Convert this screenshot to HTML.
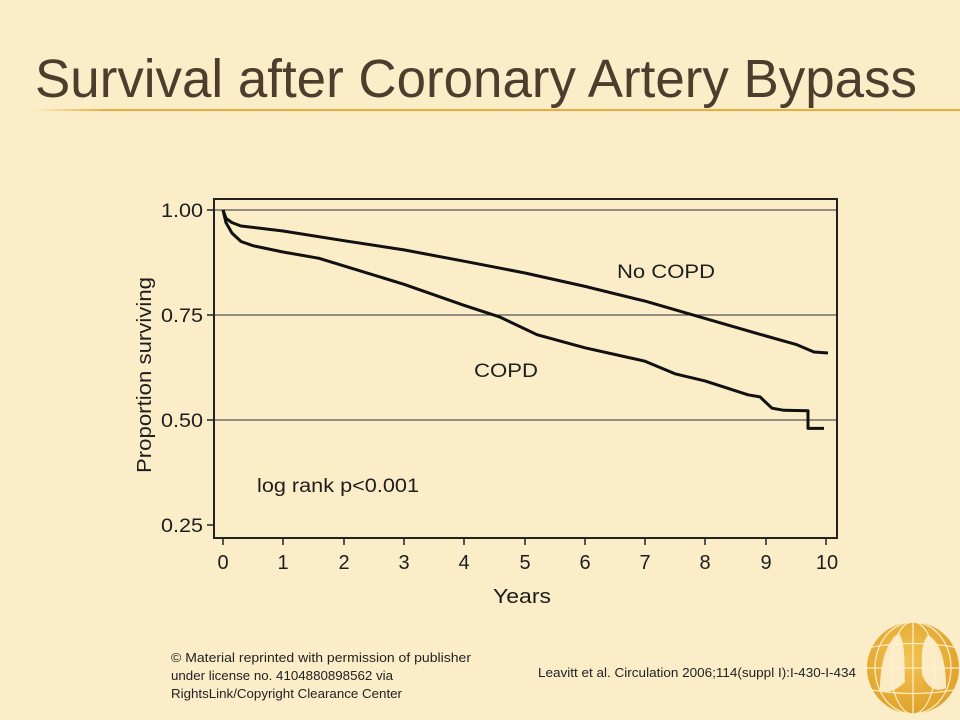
<!DOCTYPE html>
<html><head><meta charset="utf-8"><style>
html,body{margin:0;padding:0;background:#fcedc9;}
svg{display:block;}
</style></head><body>
<svg width="960" height="720" viewBox="0 0 960 720" xmlns="http://www.w3.org/2000/svg" font-family="Liberation Sans, Arial, sans-serif">
<defs>
<linearGradient id="ul" x1="0" x2="1" y1="0" y2="0">
<stop offset="0" stop-color="#f3b04a" stop-opacity="0"/>
<stop offset="0.08" stop-color="#f0a93a"/>
<stop offset="1" stop-color="#f0a93a"/>
</linearGradient>
<radialGradient id="globe" cx="0.45" cy="0.4" r="0.6">
<stop offset="0" stop-color="#f2c452"/>
<stop offset="1" stop-color="#e0a22a"/>
</radialGradient>
</defs>
<rect width="960" height="720" fill="#fcedc9"/>
<text x="35" y="97" font-size="54" fill="#4e3c2c" textLength="882" lengthAdjust="spacingAndGlyphs">Survival after Coronary Artery Bypass</text>
<rect x="30" y="109" width="930" height="2" fill="url(#ul)"/>

<!-- chart -->
<g stroke="#555" stroke-width="1.3">
<line x1="213" y1="210" x2="837" y2="210"/>
<line x1="213" y1="315" x2="837" y2="315"/>
<line x1="213" y1="420" x2="837" y2="420"/>
</g>
<rect x="214" y="199" width="623" height="339" fill="none" stroke="#222" stroke-width="2"/>
<g stroke="#222" stroke-width="1.5">
<line x1="207" y1="210" x2="214" y2="210"/>
<line x1="207" y1="315" x2="214" y2="315"/>
<line x1="207" y1="420" x2="214" y2="420"/>
<line x1="207" y1="525" x2="214" y2="525"/>
<line x1="223" y1="538" x2="223" y2="545"/>
<line x1="283" y1="538" x2="283" y2="545"/>
<line x1="344" y1="538" x2="344" y2="545"/>
<line x1="404" y1="538" x2="404" y2="545"/>
<line x1="464" y1="538" x2="464" y2="545"/>
<line x1="525" y1="538" x2="525" y2="545"/>
<line x1="585" y1="538" x2="585" y2="545"/>
<line x1="645" y1="538" x2="645" y2="545"/>
<line x1="705" y1="538" x2="705" y2="545"/>
<line x1="766" y1="538" x2="766" y2="545"/>
<line x1="826" y1="538" x2="826" y2="545"/>
</g>
<g font-size="19" fill="#1e1e1e" text-anchor="end">
<text x="203" y="217" textLength="42" lengthAdjust="spacingAndGlyphs">1.00</text>
<text x="203" y="322" textLength="42" lengthAdjust="spacingAndGlyphs">0.75</text>
<text x="203" y="427" textLength="42" lengthAdjust="spacingAndGlyphs">0.50</text>
<text x="203" y="532" textLength="42" lengthAdjust="spacingAndGlyphs">0.25</text>
</g>
<g font-size="20" fill="#1e1e1e" text-anchor="middle">
<text x="223" y="569">0</text><text x="283" y="569">1</text><text x="344" y="569">2</text>
<text x="404" y="569">3</text><text x="464" y="569">4</text><text x="525" y="569">5</text>
<text x="585" y="569">6</text><text x="645" y="569">7</text><text x="705" y="569">8</text>
<text x="766" y="569">9</text><text x="827" y="569">10</text>
<text x="522" y="603" textLength="58" lengthAdjust="spacingAndGlyphs">Years</text>
<text transform="translate(151,375) rotate(-90)" textLength="196" lengthAdjust="spacingAndGlyphs">Proportion surviving</text>
</g>
<g font-size="19" fill="#1e1e1e">
<text x="617" y="278" textLength="98" lengthAdjust="spacingAndGlyphs">No COPD</text>
<text x="474" y="377" textLength="64" lengthAdjust="spacingAndGlyphs">COPD</text>
<text x="257" y="492" textLength="162" lengthAdjust="spacingAndGlyphs">log rank p&lt;0.001</text>
</g>
<g fill="none" stroke="#111" stroke-width="3" stroke-linejoin="round">
<polyline points="223,210 226,218.4 232,222.6 241,226 283,231 344,240.7 404,249.9 464,261.2 525,273 585,286.4 645,301.1 705,318.4 766,336 796,344.4 814,352 828,353"/>
<polyline points="223,210 226,222.6 232,233.1 241,241.5 253,245.7 283,252 319,258.3 344,265.9 404,284.3 464,305.3 500,317.1 537,334.7 585,347.8 645,361.2 675,373.8 705,380.9 748,394.8 760,396.9 772,408.2 784,410.3 808,410.8 808,428.4 824,428.4"/>
</g>

<!-- footer -->
<g font-size="12.5" fill="#222">
<text x="171" y="662" textLength="300" lengthAdjust="spacingAndGlyphs">© Material reprinted with permission of publisher</text>
<text x="171" y="680" textLength="222" lengthAdjust="spacingAndGlyphs">under license no. 4104880898562   via</text>
<text x="171" y="698" textLength="231" lengthAdjust="spacingAndGlyphs">RightsLink/Copyright Clearance Center</text>
<text x="538" y="677" textLength="318" lengthAdjust="spacingAndGlyphs">Leavitt et al. Circulation 2006;114(suppl I):I-430-I-434</text>
</g>

<!-- logo -->
<g>
<circle cx="913" cy="668" r="46" fill="url(#globe)"/>
<path d="M899,633 C888,640 880,660 880,690 C890,695 898,688 905,682 C904,665 906,645 899,633 Z" fill="#fff5dc" opacity="0.85"/>
<path d="M928,635 C940,642 946,660 946,688 C936,693 928,688 922,675 C922,660 920,645 928,635 Z" fill="#fff5dc" opacity="0.85"/>
<g fill="none" stroke="#fff2d0" stroke-width="1.3" opacity="0.9">
<ellipse cx="913" cy="668" rx="22" ry="46"/>
<ellipse cx="913" cy="668" rx="38" ry="46"/>
<line x1="913" y1="622" x2="913" y2="714"/>
<line x1="867" y1="668" x2="959" y2="668"/>
<path d="M872,647 Q913,640 954,647"/>
<path d="M872,690 Q913,697 954,690"/>
</g>
</g>
</svg>
</body></html>
